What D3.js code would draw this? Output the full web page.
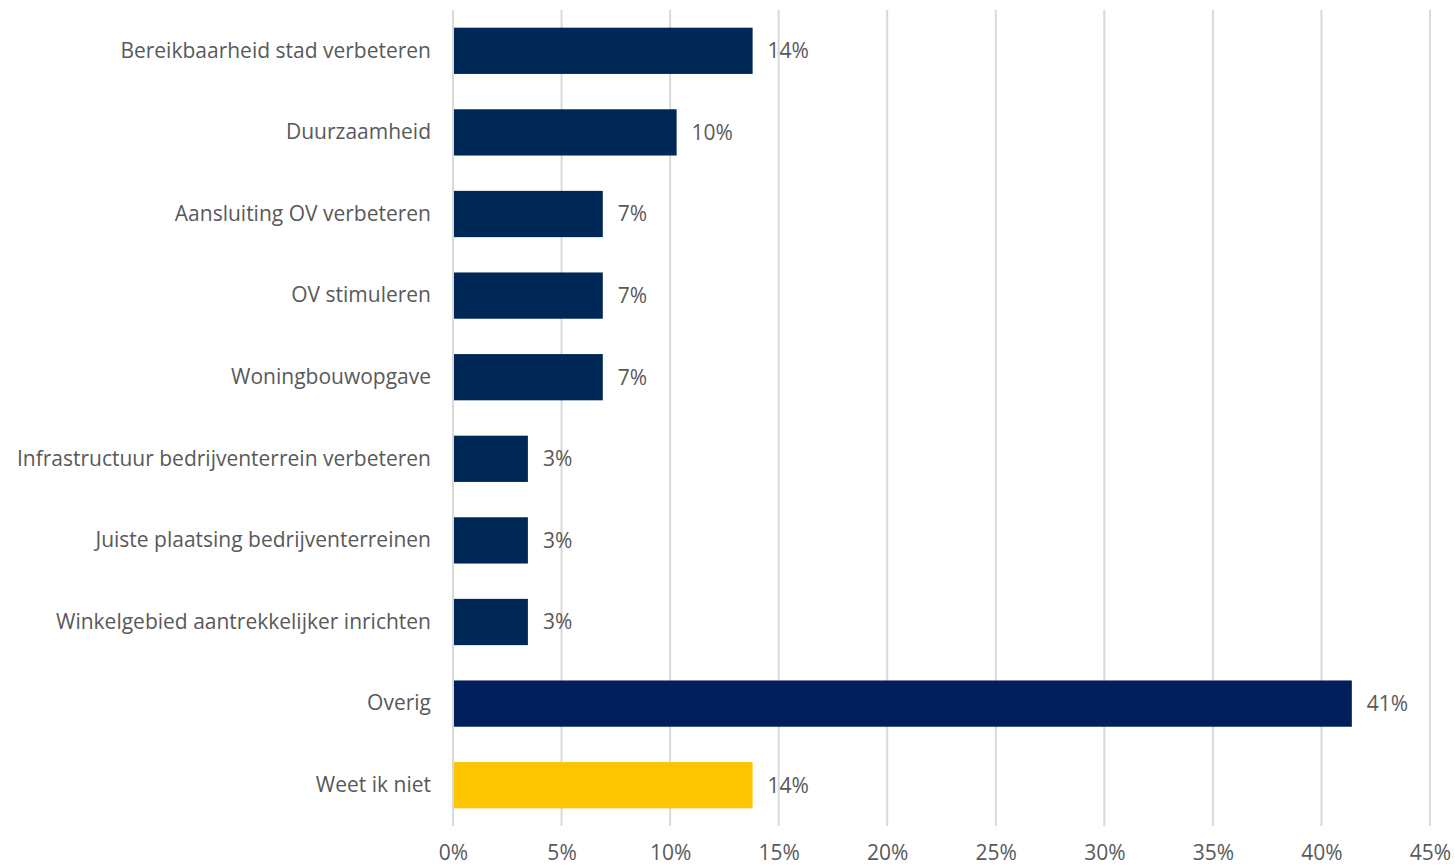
<!DOCTYPE html>
<html>
<head>
<meta charset="utf-8">
<script src="https://cdn.jsdelivr.net/npm/d3@7"></script>
<style>
html,body{margin:0;padding:0;background:#fff;}
svg{display:block;}
</style>
</head>
<body>
<svg id="chart" width="1455" height="866"></svg>
<script>
const categories = [
  "Bereikbaarheid stad verbeteren",
  "Duurzaamheid",
  "Aansluiting OV verbeteren",
  "OV stimuleren",
  "Woningbouwopgave",
  "Infrastructuur bedrijventerrein verbeteren",
  "Juiste plaatsing bedrijventerreinen",
  "Winkelgebied aantrekkelijker inrichten",
  "Overig",
  "Weet ik niet"
];
const values = [13.8, 10.3, 6.9, 6.9, 6.9, 3.45, 3.45, 3.45, 41.4, 13.8];
const barColors = ["#002856","#002856","#002856","#002856","#002856","#002856","#002856","#002856","#001F5B","#FDC500"];
const xTicks = [0,5,10,15,20,25,30,35,40,45];

const svg = d3.select("#chart");
const font = "Open Sans, sans-serif";
const fs = 21;
const textColor = "#595959";

const x = d3.scaleLinear().domain([0,45]).range([453,1430]);
const y = d3.scaleBand().domain(categories).range([10,826]).paddingInner(0.433).paddingOuter(0.2165);

// gridlines
svg.append("g").selectAll("line").data(xTicks).join("line")
  .attr("x1", d=>x(d)).attr("x2", d=>x(d))
  .attr("y1", 10).attr("y2", 826)
  .attr("stroke", "#d9d9d9").attr("stroke-width", 2);

// bars
svg.append("g").selectAll("rect").data(values).join("rect")
  .attr("x", x(0)+1)
  .attr("y", (d,i)=>y(categories[i]))
  .attr("width", d=>x(d)-x(0)-1)
  .attr("height", y.bandwidth())
  .attr("fill", (d,i)=>barColors[i]);

// value labels
svg.append("g").selectAll("text").data(values).join("text")
  .attr("x", d=>x(d)+15)
  .attr("y", (d,i)=>y(categories[i])+y.bandwidth()/2)
  .attr("dy", "0.35em")
  .attr("font-family", font).attr("font-size", fs).attr("fill", textColor)
  .text(d=>Math.round(d)+"%");

// category axis
const yAxis = d3.axisLeft(y).tickSize(0).tickPadding(22);
const gy = svg.append("g").attr("transform", `translate(${x(0)},0)`).call(yAxis);
gy.select(".domain").remove();
gy.selectAll("text").attr("font-family", font).attr("font-size", fs).attr("fill", textColor);

// x axis
const xAxis = d3.axisBottom(x).tickValues(xTicks).tickSize(0).tickPadding(0).tickFormat(d=>d+"%");
const gx = svg.append("g").attr("transform", `translate(0,845)`).call(xAxis);
gx.select(".domain").remove();
gx.selectAll("text").attr("font-family", font).attr("font-size", fs).attr("fill", textColor);
</script>
</body>
</html>
